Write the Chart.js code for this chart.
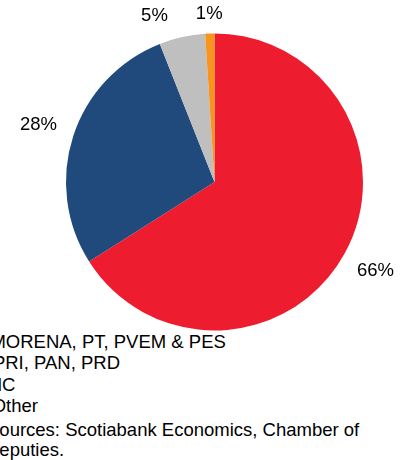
<!DOCTYPE html>
<html>
<head>
<meta charset="utf-8">
<script src="https://cdn.jsdelivr.net/npm/chart.js@4"></script>
<style>
  body { margin: 0; background: #fff; }
  #wrap { position: relative; width: 411px; height: 460px; overflow: hidden; font-family: "Liberation Sans", Arial, sans-serif; }
  #box { position: absolute; left: 0; top: 0; width: 411px; height: 331px; }
  .txt { position: absolute; font-size: 18.5px; line-height: 21px; color: #000; white-space: nowrap; }
</style>
</head>
<body>
<div id="wrap">
  <div id="box"><canvas id="pie"></canvas></div>
  <div id="legend"></div>
</div>
<script>
  // Datos del gráfico
  const partidos = ["MORENA, PT, PVEM & PES", "PRI, PAN, PRD", "MC", "Other"];
  const escanos = [66, 28, 5, 1];
  const colores = ["#ED1C2E", "#214A7C", "#BFBFBF", "#F7941D"];
  const fuente = ["Sources: Scotiabank Economics, Chamber of", "Deputies."];

  // Etiquetas de porcentaje fuera del pastel
  const etiquetas = {
    id: "etiquetas",
    afterDraw(chart) {
      const ctx = chart.ctx;
      const meta = chart.getDatasetMeta(0);
      const total = escanos.reduce((a, b) => a + b, 0);
      ctx.save();
      ctx.font = '18.5px "Liberation Sans", Arial, sans-serif';
      ctx.fillStyle = "#000";
      ctx.textAlign = "center";
      ctx.textBaseline = "middle";
      const pos = meta.data.map((arc, i) => {
        const a = (arc.startAngle + arc.endAngle) / 2;
        const txt = Math.round(escanos[i] / total * 100) + "%";
        const hw = ctx.measureText(txt).width / 2;
        const d = arc.outerRadius + 19 + Math.abs(Math.cos(a)) * hw;
        return { txt, hw, x: arc.x + Math.cos(a) * d, y: arc.y + Math.sin(a) * d };
      });
      // separar etiquetas vecinas demasiado juntas
      for (let i = pos.length - 1; i > 0; i--) {
        const p = pos[i], q = pos[i - 1];
        if (Math.abs(p.y - q.y) < 18) {
          const gap = (p.x - p.hw) - (q.x + q.hw);
          if (gap < 28) q.x -= 28 - gap;
        }
      }
      pos.forEach((p) => ctx.fillText(p.txt, p.x, p.y));
      ctx.restore();
    }
  };

  const ctx = document.getElementById("pie").getContext("2d");
  const chart = new Chart(ctx, {
    type: "pie",
    data: {
      labels: partidos,
      datasets: [{ data: escanos, backgroundColor: colores, borderWidth: 0 }],
    },
    options: {
      responsive: true,
      maintainAspectRatio: false,
      animation: false,
      layout: { padding: { left: 66, right: 48, top: 33, bottom: 0 } },
      plugins: { legend: { display: false }, tooltip: { enabled: false } },
    },
    plugins: [etiquetas],
  });

  // Leyenda y fuente (recortadas a la izquierda como en el original)
  const legend = document.getElementById("legend");
  const lineas = partidos.concat(fuente);
  const izq = [-9.6, -7.1, -13.3, -8.3, -13, -14];
  const arriba = [331, 352, 373.5, 395, 418.5, 438.5];
  lineas.forEach((t, i) => {
    const d = document.createElement("div");
    d.className = "txt";
    d.style.left = izq[i] + "px";
    d.style.top = arriba[i] + "px";
    d.textContent = t;
    legend.appendChild(d);
  });
</script>
</body>
</html>
